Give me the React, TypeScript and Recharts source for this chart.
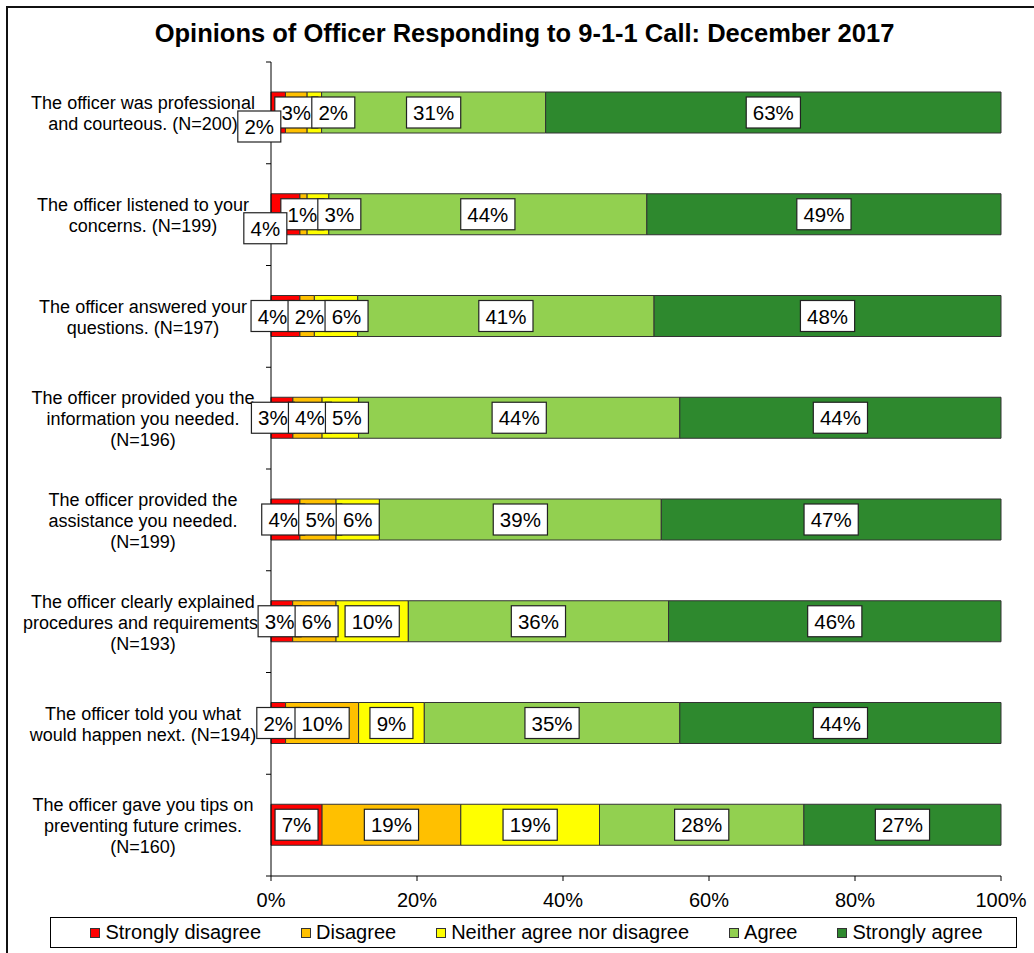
import React from "react";
import { BarChart, Bar, XAxis, YAxis, LabelList, Legend } from "recharts";

const FONT = "'Liberation Sans', Arial, sans-serif";

const categories = [
  "The officer was professional and courteous. (N=200)",
  "The officer listened to your concerns. (N=199)",
  "The officer answered your questions. (N=197)",
  "The officer provided you the information you needed. (N=196)",
  "The officer provided the assistance you needed. (N=199)",
  "The officer clearly explained procedures and requirements. (N=193)",
  "The officer told you what would happen next. (N=194)",
  "The officer gave you tips on preventing future crimes. (N=160)",
];

const strongDisagree = [2, 4, 4, 3, 4, 3, 2, 7];
const disagree = [3, 1, 2, 4, 5, 6, 10, 19];
const neither = [2, 3, 6, 5, 6, 10, 9, 19];
const agree = [31, 44, 41, 44, 39, 36, 35, 28];
const strongAgree = [63, 49, 48, 44, 47, 46, 44, 27];

const xTicks = [0, 0.2, 0.4, 0.6, 0.8, 1];

const SERIES = [
  { key: "sd", name: "Strongly disagree", color: "#FF0000", values: strongDisagree },
  { key: "d", name: "Disagree", color: "#FFC000", values: disagree },
  { key: "n", name: "Neither agree nor disagree", color: "#FFFF00", values: neither },
  { key: "a", name: "Agree", color: "#92D050", values: agree },
  { key: "sa", name: "Strongly agree", color: "#2E892E", values: strongAgree },
];

const data = categories.map((name, i) => {
  const row: Record<string, any> = { name };
  SERIES.forEach((s) => (row[s.key] = s.values[i]));
  return row;
});

// greedy word wrap, roughly how Excel broke the category names
function wrapLabel(text: string, maxChars: number) {
  const words = text.split(" ");
  const lines: string[] = [];
  let cur = "";
  words.forEach((w) => {
    const next = cur ? cur + " " + w : w;
    if (next.length > maxChars && cur) {
      lines.push(cur);
      cur = w;
    } else {
      cur = next;
    }
  });
  if (cur) lines.push(cur);
  return lines;
}

function CategoryTick(props: any) {
  const { x, y, payload, index, height, visibleTicksCount } = props;
  const count = visibleTicksCount || categories.length;
  const half = height ? height / count / 2 : 814 / count / 2;
  const lines = wrapLabel(String(payload.value), 29);
  const n = lines.length;
  const cx = x - 128;
  return (
    <g>
      <line x1={x - 5} x2={x} y1={y - half} y2={y - half} stroke="#000" />
      {index === count - 1 && <line x1={x - 5} x2={x} y1={y + half} y2={y + half} stroke="#000" />}
      <text textAnchor="middle" fontSize={18} fill="#000" fontFamily={FONT}>
        {lines.map((l, i) => (
          <tspan key={i} x={cx} y={y + (i - (n - 1) / 2) * 21 + 7}>
            {l}
          </tspan>
        ))}
      </text>
    </g>
  );
}

// push overlapping label boxes apart, keeping each group centred on its segments
function spread(items: { c: number; w: number }[]) {
  let clusters = items.map((it, i) => ({ idx: [i], left: it.c - it.w / 2, width: it.w }));
  let changed = true;
  while (changed) {
    changed = false;
    for (let k = 0; k < clusters.length - 1; k++) {
      const a = clusters[k];
      const b = clusters[k + 1];
      if (a.left + a.width > b.left + 0.5) {
        const idx = [...a.idx, ...b.idx];
        let off = 0;
        let sum = 0;
        idx.forEach((i) => {
          sum += items[i].c - (off + items[i].w / 2);
          off += items[i].w;
        });
        clusters.splice(k, 2, { idx, left: sum / idx.length, width: off });
        changed = true;
        break;
      }
    }
  }
  const lefts: number[] = [];
  clusters.forEach((cl) => {
    let l = cl.left;
    cl.idx.forEach((i) => {
      lefts[i] = l;
      l += items[i].w;
    });
  });
  return lefts;
}

const OVERLAP = 6;

function RowLabels(props: any) {
  const vb = props.viewBox || {};
  const x = props.x ?? vb.x;
  const y = props.y ?? vb.y;
  const width = props.width ?? vb.width;
  const height = props.height ?? vb.height;
  let index = props.index;
  if (index == null && props.payload) index = categories.indexOf(props.payload.name);
  if (index == null || index < 0 || x == null) return null;

  const vals = SERIES.map((s) => s.values[index]);
  const total = vals.reduce((a, b) => a + b, 0);
  const last = vals[vals.length - 1];
  const fullW = (width * total) / last;
  const x0 = x + width - fullW;
  const cy = y + height / 2;

  let cum = 0;
  const items = vals.map((v) => {
    const c = x0 + ((cum + v / 2) / total) * fullW;
    cum += v;
    const text = `${v}%`;
    const w = (text.length - 1) * 11.2 + 17.8 + 14;
    return { c, w, text };
  });
  // boxes may overlap a little, as Excel lets them
  const effLefts = spread(items.map((it) => ({ c: it.c, w: it.w - OVERLAP })));
  const lefts = effLefts.map((l) => l - OVERLAP / 2);
  const staggered = lefts[0] < 250;
  const dys = items.map((_, i) => (i === 0 && staggered ? 14 : 0));
  // a dropped first label sits on top of its neighbour
  const order = staggered ? [1, 2, 3, 4, 0] : [0, 1, 2, 3, 4];

  return (
    <g>
      {order.map((i) => {
        const it = items[i];
        return (
          <g key={i}>
            <rect
              x={lefts[i]}
              y={cy - 15.5 + dys[i]}
              width={it.w}
              height={31}
              fill="#fff"
              stroke="#222"
              strokeWidth={1.2}
            />
            <text
              x={lefts[i] + it.w / 2}
              y={cy + 7.5 + dys[i]}
              textAnchor="middle"
              fontSize={20.5}
              fill="#000"
              fontFamily={FONT}
            >
              {it.text}
            </text>
          </g>
        );
      })}
    </g>
  );
}

function LegendBox() {
  return (
    <div
      style={{
        boxSizing: "border-box",
        width: 967,
        height: 31,
        border: "1px solid #000",
        background: "#fff",
        display: "flex",
        alignItems: "center",
        justifyContent: "center",
        gap: 40,
        fontFamily: FONT,
        fontSize: 20,
        color: "#000",
        paddingLeft: 6,
      }}
    >
      {SERIES.map((s) => (
        <div key={s.key} style={{ display: "flex", alignItems: "center", gap: 5, whiteSpace: "nowrap" }}>
          <span
            style={{
              display: "inline-block",
              boxSizing: "border-box",
              width: 10,
              height: 10,
              background: s.color,
              border: "1px solid #333",
            }}
          />
          <span>{s.name}</span>
        </div>
      ))}
    </div>
  );
}

export default function App() {
  return (
    <div
      style={{
        position: "absolute",
        left: 0,
        top: 0,
        width: 1034,
        height: 953,
        overflow: "hidden",
        background: "#fff",
        fontFamily: FONT,
      }}
    >
      <div
        style={{
          position: "absolute",
          left: 6,
          top: 6,
          width: 1100,
          height: 1100,
          border: "2px solid #111",
        }}
      />
      <div
        style={{
          position: "absolute",
          left: 0,
          top: 21,
          width: 1049,
          textAlign: "center",
          fontSize: 25.5,
          lineHeight: 1,
          fontWeight: "bold",
          color: "#000",
          whiteSpace: "nowrap",
        }}
      >
        Opinions of Officer Responding to 9-1-1 Call: December 2017
      </div>
      <div style={{ position: "absolute", left: 0, top: 0 }}>
        <BarChart
          width={1034}
          height={953}
          data={data}
          layout="vertical"
          stackOffset="expand"
          barSize={41}
          margin={{ top: 62, right: 33, left: 0, bottom: 6 }}
        >
          <XAxis
            type="number"
            domain={[0, 1]}
            ticks={xTicks}
            interval={0}
            tickFormatter={(v: number) => `${Math.round(v * 100)}%`}
            axisLine={{ stroke: "#000" }}
            tickLine={{ stroke: "#000" }}
            tickSize={5}
            tickMargin={12}
            height={40}
            tick={{ fontSize: 20, fill: "#000", fontFamily: FONT }}
          />
          <YAxis
            type="category"
            dataKey="name"
            width={271}
            interval={0}
            axisLine={{ stroke: "#000" }}
            tickLine={false}
            tickSize={0}
            tickMargin={0}
            tick={<CategoryTick />}
          />
          <Legend
            content={<LegendBox />}
            verticalAlign="bottom"
            wrapperStyle={{ left: 50, top: 917, bottom: "auto", width: 967 }}
          />
          {SERIES.map((s, i) => (
            <Bar
              key={s.key}
              dataKey={s.key}
              name={s.name}
              stackId="a"
              fill={s.color}
              stroke="#333"
              strokeWidth={1}
              isAnimationActive={false}
            >
              {i === SERIES.length - 1 && <LabelList dataKey={s.key} content={<RowLabels />} />}
            </Bar>
          ))}
        </BarChart>
      </div>
    </div>
  );
}
